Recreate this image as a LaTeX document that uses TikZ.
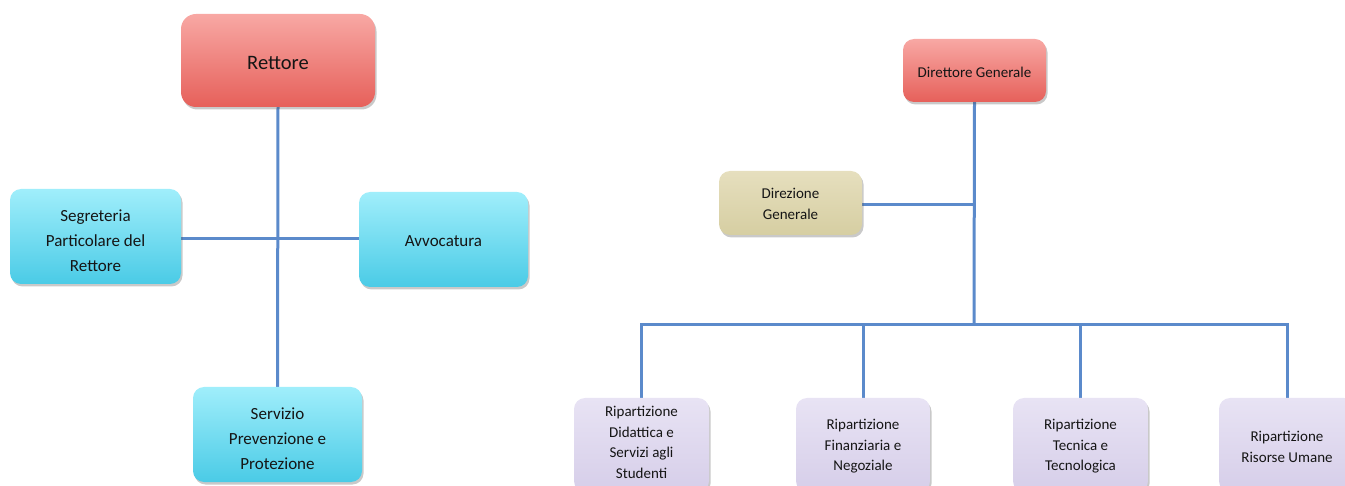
\documentclass[tikz,border=0pt]{standalone}
\usepackage{fontspec}
\setmainfont{Carlito}
\usetikzlibrary{shadows}
\pgfdeclarelayer{background}
\pgfsetlayers{background,main}

\definecolor{redtop}{HTML}{F8A8A4}
\definecolor{redbot}{HTML}{E6605A}
\definecolor{cyantop}{HTML}{A0EEFB}
\definecolor{cyanbot}{HTML}{4ACBE6}
\definecolor{khakitop}{HTML}{E6DFBE}
\definecolor{khakibot}{HTML}{D6CEA2}
\definecolor{lavtop}{HTML}{E8E3F4}
\definecolor{lavbot}{HTML}{D6CEE9}
\definecolor{linkblue}{HTML}{5B8ACB}
\definecolor{txt}{HTML}{151515}

\begin{document}
\begin{tikzpicture}[x=1pt,y=-1pt,
  box/.style={rounded corners=11pt, inner sep=0pt,
    drop shadow={shadow xshift=1.5pt, shadow yshift=-2.5pt, opacity=0.3, fill=black!70}},
  boxtext/.style={align=center, inner sep=0pt, text=txt},
  big/.style={boxtext, font=\fontsize{17}{25}\selectfont},
  small/.style={boxtext, font=\fontsize{15}{20.5}\selectfont},
  redbox/.style={box, top color=redtop, bottom color=redbot},
  cyanbox/.style={box, top color=cyantop, bottom color=cyanbot,
    minimum width=169pt, minimum height=95pt},
  khakibox/.style={box, top color=khakitop, bottom color=khakibot,
    minimum width=143pt, minimum height=64pt},
  lavbox/.style={box, top color=lavtop, bottom color=lavbot,
    minimum width=135pt, minimum height=94pt},
  link/.style={draw=linkblue, line width=3pt}]

\useasboundingbox (0,0) rectangle (1345,486);
\clip (0,0) rectangle (1345,486);

% Rector's staff
\node[redbox, rounded corners=15pt, minimum width=194pt, minimum height=93pt,
  label={[boxtext, font=\fontsize{20.5}{25}\selectfont, yshift=-2.5pt]center:Rettore}]
  (rettore) at (278,60.5) {};
\node[cyanbox, minimum width=171pt,
  label={[big, yshift=-4.5pt]center:{Segreteria\\Particolare del\\Rettore}}]
  (segr) at (95.5,236.5) {};
\node[cyanbox, label={[big, yshift=-2pt]center:Avvocatura}]
  (avv) at (443.5,239.5) {};
\node[cyanbox, label={[big, yshift=-4pt]center:{Servizio\\Prevenzione e\\Protezione}}]
  (serv) at (277.5,434.5) {};
\coordinate (hub) at (278,239);

% General management
\node[redbox, minimum width=143pt, minimum height=63pt,
  label={[small, yshift=-1.5pt]center:Direttore Generale}]
  (dirg) at (974.5,70.5) {};
\node[khakibox, label={[small, yshift=-1pt]center:{Direzione\\Generale}}]
  (direz) at (790.5,203) {};
\coordinate (bus) at (974,325);

\node[lavbox, label={[small, yshift=2.5pt]center:{Ripartizione\\Didattica e\\Servizi agli\\Studenti}}]
  (rip1) at (641.5,445) {};
\node[lavbox, minimum width=134pt,
  label={[small, yshift=-1.5pt]center:{Ripartizione\\Finanziaria e\\Negoziale}}]
  (rip2) at (863,445) {};
\node[lavbox, label={[small, yshift=-1.5pt]center:{Ripartizione\\Tecnica e\\Tecnologica}}]
  (rip3) at (1080.5,445) {};
\node[lavbox, minimum width=136pt,
  label={[small, yshift=-2pt]center:{Ripartizione\\Risorse Umane}}]
  (rip4) at (1287,445) {};

\begin{pgfonlayer}{background}
  \draw[link] (rettore.south) -- (serv.north);
  \draw[link] (segr.east |- hub) -- (avv.west |- hub);

  \draw[link] (dirg.south) -- (bus);
  \draw[link] (direz.east |- 0,205) -- (dirg.south |- 0,205);
  \draw[link] (rip1.north) -- (rip1.north |- bus) -- (rip4.north |- bus) -- (rip4.north);
  \draw[link] (rip2.north |- bus) -- (rip2.north);
  \draw[link] (rip3.north |- bus) -- (rip3.north);
\end{pgfonlayer}
\end{tikzpicture}
\end{document}
